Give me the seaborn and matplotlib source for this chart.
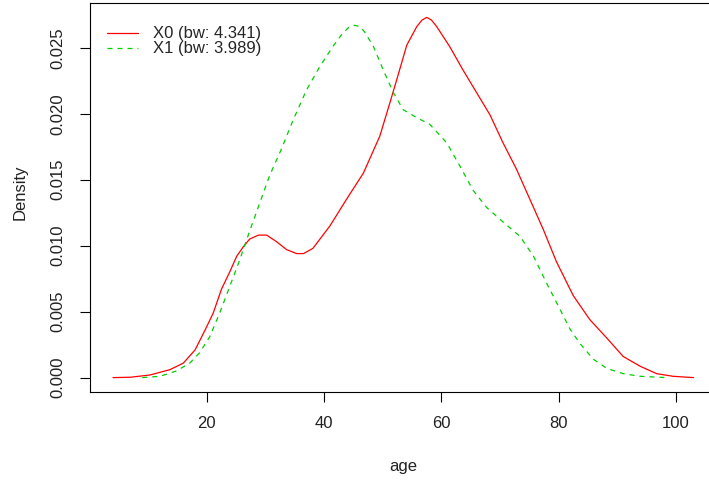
import matplotlib
matplotlib.use("Agg")
import matplotlib.pyplot as plt
import seaborn as sns

# density curves (age, density)
age_x0 = [4.0, 7.0, 10.3, 13.7, 16.0, 18.0, 19.7, 21.1, 22.5, 23.9, 25.1, 26.2, 27.3,
          28.8, 30.2, 31.9, 33.6, 35.3, 36.5, 38.1, 41.0, 43.8, 46.7, 49.5, 51.2,
          52.4, 54.1, 55.8, 56.7, 57.5, 58.3, 59.2, 61.4, 63.7, 66.0, 68.3, 70.5,
          72.8, 75.1, 77.4, 79.6, 81.6, 82.5, 85.3, 88.2, 91.0, 93.9, 96.7, 99.5,
          103.0]
dens_x0 = [0.0, 0.00003, 0.0002, 0.0006, 0.0011, 0.0021, 0.0036, 0.0049, 0.0067,
           0.0080, 0.0092, 0.0099, 0.0105, 0.0108, 0.0108, 0.0103, 0.0097, 0.0094,
           0.0094, 0.0098, 0.0115, 0.0135, 0.0155, 0.0183, 0.0208, 0.0226, 0.0252,
           0.0266, 0.0271, 0.0273, 0.0271, 0.0266, 0.0251, 0.0233, 0.0216, 0.0199,
           0.0178, 0.0158, 0.0135, 0.0112, 0.0088, 0.0070, 0.0062, 0.0044, 0.0030,
           0.0016, 0.00086, 0.0003, 0.0001, 0.0]

age_x1 = [9.0, 12.0, 14.8, 17.1, 18.8, 20.5, 22.2, 23.9, 25.6, 27.3, 29.0, 30.7, 32.6,
          34.7, 37.0, 39.3, 41.5, 43.0, 44.3, 45.2, 46.1, 46.9, 48.4, 50.1, 51.8,
          53.5, 55.8, 58.0, 60.9, 63.2, 65.4, 67.7, 70.5, 73.4, 75.7, 77.9, 80.2,
          81.9, 83.6, 85.9, 88.2, 91.0, 93.9, 98.4]
dens_x1 = [0.0, 0.0001, 0.0005, 0.0011, 0.0019, 0.0031, 0.0049, 0.0069, 0.0089,
           0.0111, 0.0132, 0.0153, 0.0172, 0.0195, 0.0218, 0.0236, 0.0251, 0.0260,
           0.0266, 0.0267, 0.0266, 0.0262, 0.0251, 0.0233, 0.0216, 0.0203, 0.0197,
           0.0192, 0.0178, 0.0160, 0.0142, 0.0129, 0.0118, 0.0107, 0.0092, 0.0072,
           0.0052, 0.0037, 0.0026, 0.0014, 0.0007, 0.0003, 0.0001, 0.0]

labels = ["X0 (bw: 4.341)", "X1 (bw: 3.989)"]
x_ticks = [20, 40, 60, 80, 100]
y_ticks = [0.000, 0.005, 0.010, 0.015, 0.020, 0.025]

sns.set_style("ticks")
plt.rcParams['font.family'] = ['Liberation Sans', 'DejaVu Sans']

fig = plt.figure(figsize=(7.09, 4.82), dpi=100)
# R-like plot region; right edge runs past the canvas like the reference
ax = fig.add_axes([89.75 / 709, 90 / 482, (716.8 - 89.75) / 709, 389 / 482])

sns.lineplot(x=age_x0, y=dens_x0, color="#FF0000", linewidth=0.9,
             sort=False, estimator=None, ax=ax, label=labels[0])
sns.lineplot(x=age_x1, y=dens_x1, color="#00CD00", linewidth=0.9,
             linestyle=(0, (4, 4)), sort=False, estimator=None, ax=ax, label=labels[1])

ax.set_xlim(0.04, 106.96)
ax.set_ylim(-0.00109, 0.02839)
ax.set_xticks(x_ticks)
ax.set_xticklabels([str(t) for t in x_ticks])
ax.set_yticks(y_ticks)
ax.set_yticklabels([f"{t:.3f}" for t in y_ticks], rotation=90, va="center")

for s in ax.spines.values():
    s.set_color("black")
    s.set_linewidth(0.8)
ax.tick_params(direction="out", length=7, width=0.8, pad=10.5,
               labelsize=12, colors="black", bottom=True, left=True)
for lab in ax.get_xticklabels() + ax.get_yticklabels():
    lab.set_color("#222222")

ax.set_xlabel("age", fontsize=12, color="#222222")
ax.xaxis.set_label_coords(0.5, -(466 - 392) / 389)
ax.xaxis.label.set_va("center")
ax.set_ylabel("Density", fontsize=12, color="#222222")
ax.yaxis.set_label_coords((20 - 89.75) / 627, 0.514)
ax.yaxis.label.set_va("center")

ax.legend(loc="upper left", bbox_to_anchor=(0.0275, 0.94), frameon=False,
          handlelength=1.85, handletextpad=0.9, labelspacing=0.0,
          borderaxespad=0, borderpad=0, fontsize=12)

fig.savefig("out.png", dpi=100)
